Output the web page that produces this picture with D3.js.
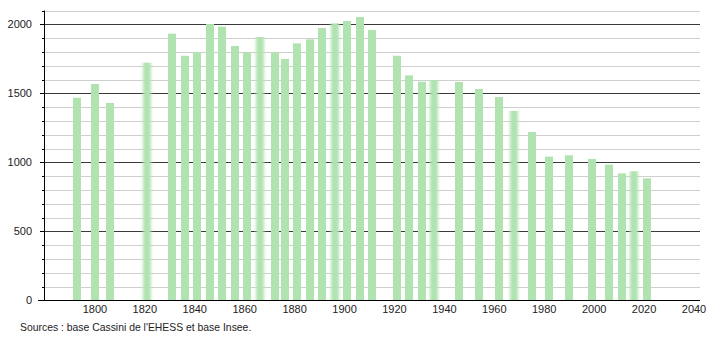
<!DOCTYPE html>
<html>
<head>
<meta charset="utf-8">
<script src="https://cdn.jsdelivr.net/npm/d3@7"></script>
<style>
  body { margin: 0; background: #fff; }
  text { font-family: "Liberation Sans", Arial, sans-serif; fill: #222; }
</style>
</head>
<body>
<div id="graph"></div>
<script>
// recensements (années) et population
const years = [1793, 1800, 1806, 1821, 1831, 1836, 1841, 1846, 1851, 1856, 1861, 1866,
  1872, 1876, 1881, 1886, 1891, 1896, 1901, 1906, 1911, 1921, 1926, 1931, 1936,
  1946, 1954, 1962, 1968, 1975, 1982, 1990, 1999, 2006, 2011, 2016, 2021];
const population = [1468, 1567, 1430, 1722, 1932, 1772, 1799, 2002, 1983, 1843, 1797, 1908,
  1797, 1749, 1862, 1891, 1973, 2007, 2024, 2053, 1959, 1772, 1630, 1584, 1596,
  1582, 1531, 1473, 1372, 1220, 1041, 1051, 1024, 983, 920, 935, 884];
// barres floues dans l'image d'origine
const blurred = [1821, 1866, 1896, 1936, 1968, 2016];

const yMajor = [0, 500, 1000, 1500, 2000];
const yMinor = d3.range(0, 2101, 100);
const xTicks = [1800, 1820, 1840, 1860, 1880, 1900, 1920, 1940, 1960, 1980, 2000, 2020, 2040];
const source = "Sources : base Cassini de l'EHESS et base Insee.";

const width = 710, height = 340;

const svg = d3.select("#graph")
  .append("svg")
  .attr("width", width)
  .attr("height", height);

const defs = svg.append("defs");
defs.append("filter")
  .attr("id", "flou")
  .attr("x", "-50%").attr("width", "200%")
  .append("feGaussianBlur")
  .attr("stdDeviation", "1.5 0");

let x = d3.scaleLinear()
  .domain([1779.6, 2042.4])
  .range([44, 700]);

let y = d3.scaleLinear()
  .domain([0, 2100])
  .range([300.3, 10.5]);

// grille secondaire
svg.append("g")
  .selectAll("line")
  .data(yMinor.filter(v => v % 500 !== 0))
  .join("line")
  .attr("x1", 44).attr("x2", 700)
  .attr("y1", d => Math.round(y(d)) + 0.5)
  .attr("y2", d => Math.round(y(d)) + 0.5)
  .attr("stroke", "#cfcfcf");

// grille principale
svg.append("g")
  .selectAll("line")
  .data(yMajor.filter(v => v > 0))
  .join("line")
  .attr("x1", 44).attr("x2", 700)
  .attr("y1", d => Math.round(y(d)) + 0.5)
  .attr("y2", d => Math.round(y(d)) + 0.5)
  .attr("stroke", "#3a3a3a");

// barres
const bars = population.map((v, i) => ({ year: years[i], value: v }));
svg.append("g")
  .selectAll("rect")
  .data(bars)
  .join("rect")
  .attr("x", d => Math.round(x(d.year) - 4))
  .attr("width", 8)
  .attr("y", d => y(d.value))
  .attr("height", d => y(0) - y(d.value))
  .attr("fill", "#b0e3b0")
  .attr("filter", d => blurred.includes(d.year) ? "url(#flou)" : null);

// axe Y
const yAxis = svg.append("g");
yAxis.append("line")
  .attr("x1", 44.5).attr("x2", 44.5)
  .attr("y1", y(2100)).attr("y2", 301)
  .attr("stroke", "#000");
yAxis.selectAll(".minor")
  .data(yMinor)
  .join("line")
  .attr("x1", d => d % 500 === 0 ? 40 : 42).attr("x2", 44)
  .attr("y1", d => Math.round(y(d)) + 0.5)
  .attr("y2", d => Math.round(y(d)) + 0.5)
  .attr("stroke", "#000");
yAxis.selectAll("text")
  .data(yMajor)
  .join("text")
  .attr("x", 32)
  .attr("y", d => y(d) + 4)
  .attr("text-anchor", "end")
  .style("font-size", "11px")
  .text(d => d);

// axe X
svg.append("line")
  .attr("x1", 38).attr("x2", 700)
  .attr("y1", 300.5).attr("y2", 300.5)
  .attr("stroke", "#000");
svg.append("g")
  .selectAll("text")
  .data(xTicks)
  .join("text")
  .attr("x", d => x(d))
  .attr("y", 313)
  .attr("text-anchor", "middle")
  .style("font-size", "11px")
  .text(d => d);

svg.append("text")
  .attr("x", 20)
  .attr("y", 331)
  .style("font-size", "10.4px")
  .text(source);
</script>
</body>
</html>
